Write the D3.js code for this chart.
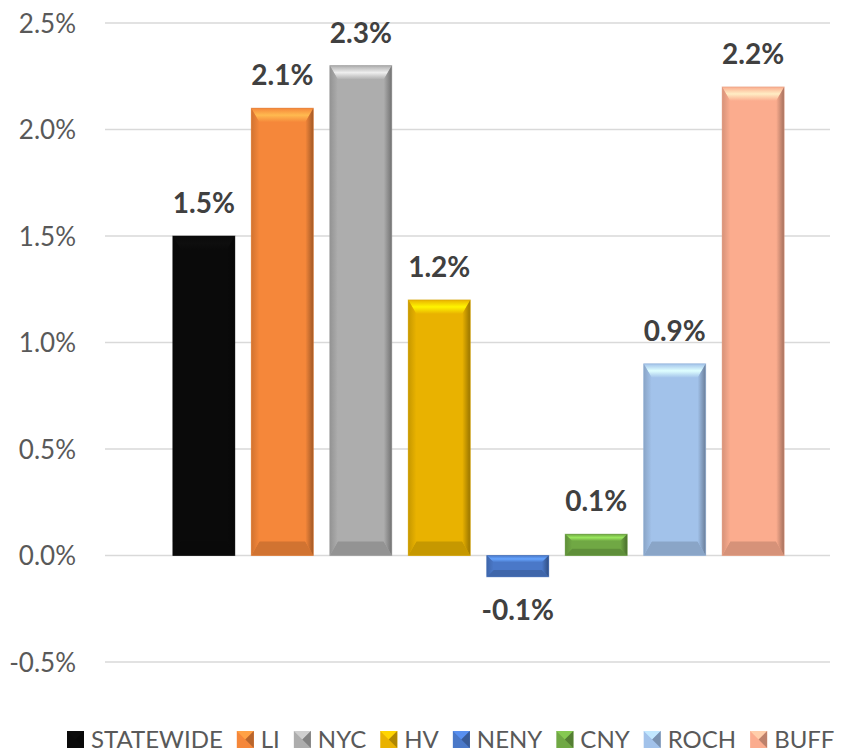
<!DOCTYPE html>
<html>
<head>
<meta charset="utf-8">
<script src="https://cdn.jsdelivr.net/npm/d3@7"></script>
<style>
  body { margin: 0; background: #fff; }
  svg { font-family: Lato, "Open Sans", sans-serif; }
</style>
</head>
<body>
<div id="container"></div>
<script>
/* CONSTANTS AND GLOBALS */
const width = 852;
const height = 754;
const margin = { top: 23, bottom: 92, left: 105, right: 22 };

/* DATA */
const regions = ["STATEWIDE", "LI", "NYC", "HV", "NENY", "CNY", "ROCH", "BUFF"];
const growth = [1.5, 2.1, 2.3, 1.2, -0.1, 0.1, 0.9, 2.2];
const colors = ["#0a0a0a", "#f5873a", "#adadad", "#e9b200", "#4a78c8", "#70a844", "#a2c2ea", "#fbac8e"];
const yTicks = [-0.5, 0, 0.5, 1.0, 1.5, 2.0, 2.5];

const data = regions.map((r, i) => ({ region: r, value: growth[i], color: colors[i] }));

/* SCALES */
const yScale = d3.scaleLinear()
  .domain([-0.5, 2.5])
  .range([662, margin.top]);

const xScale = d3.scaleBand()
  .domain(regions)
  .range([165, 792])
  .paddingInner(0.21)
  .paddingOuter(0.1);

/* SVG */
const svg = d3.select("#container")
  .append("svg")
  .attr("width", width)
  .attr("height", height);

const defs = svg.append("defs");

// gridlines
svg.append("g")
  .selectAll("line")
  .data(yTicks)
  .join("line")
  .attr("x1", margin.left)
  .attr("x2", width - margin.right)
  .attr("y1", d => yScale(d))
  .attr("y2", d => yScale(d))
  .attr("stroke", "#d9d9d9")
  .attr("stroke-width", 1.5);

// y axis labels
const yAxis = d3.axisLeft(yScale)
  .tickValues(yTicks)
  .tickFormat(d => d.toFixed(1) + "%")
  .tickSize(0)
  .tickPadding(0);

svg.append("g")
  .attr("transform", "translate(76,0)")
  .call(yAxis)
  .call(g => g.select(".domain").remove())
  .call(g => g.selectAll("text")
    .attr("fill", "#595959")
    .attr("dy", "0.36em")
    .style("font-size", "26px")
    .style("font-family", "Lato, 'Open Sans', sans-serif"));

/* BARS WITH BEVEL */
data.forEach((d, i) => {
  const c = d3.color(d.color);
  const light = c.brighter(0.9).formatHex();
  const dark = c.darker(1.2).formatHex();
  const mid = c.darker(0.45).formatHex();

  // side gradients
  const gl = defs.append("linearGradient").attr("id", "gl" + i).attr("x1", 0).attr("x2", 1);
  gl.append("stop").attr("offset", 0).attr("stop-color", mid);
  gl.append("stop").attr("offset", 1).attr("stop-color", d.color);
  const gr = defs.append("linearGradient").attr("id", "gr" + i).attr("x1", 0).attr("x2", 1);
  gr.append("stop").attr("offset", 0).attr("stop-color", d.color);
  gr.append("stop").attr("offset", 1).attr("stop-color", dark);
  const gt = defs.append("linearGradient").attr("id", "gt" + i).attr("x1", 0).attr("x2", 0).attr("y1", 0).attr("y2", 1);
  gt.append("stop").attr("offset", 0).attr("stop-color", d.color);
  gt.append("stop").attr("offset", 0.5).attr("stop-color", light);
  gt.append("stop").attr("offset", 1).attr("stop-color", d.color);

  const x0 = xScale(d.region);
  const x1 = x0 + xScale.bandwidth();
  const y0 = yScale(Math.max(0, d.value));
  const y1 = yScale(Math.min(0, d.value));
  const h = y1 - y0;
  const t = Math.min(14, h * 0.32);
  const s = Math.min(8, h * 0.32);

  const g = svg.append("g");
  g.append("rect")
    .attr("x", x0).attr("y", y0)
    .attr("width", x1 - x0).attr("height", h)
    .attr("fill", d.color);
  // top
  g.append("polygon")
    .attr("points", [[x0, y0], [x1, y0], [x1 - s, y0 + t], [x0 + s, y0 + t]].join(" "))
    .attr("fill", `url(#gt${i})`);
  // bottom
  g.append("polygon")
    .attr("points", [[x0, y1], [x1, y1], [x1 - s, y1 - t], [x0 + s, y1 - t]].join(" "))
    .attr("fill", mid);
  // left
  g.append("polygon")
    .attr("points", [[x0, y0], [x0 + s, y0 + t], [x0 + s, y1 - t], [x0, y1]].join(" "))
    .attr("fill", `url(#gl${i})`);
  // right
  g.append("polygon")
    .attr("points", [[x1, y0], [x1 - s, y0 + t], [x1 - s, y1 - t], [x1, y1]].join(" "))
    .attr("fill", `url(#gr${i})`);
  g.append("rect")
    .attr("x", x0).attr("y", y0)
    .attr("width", x1 - x0).attr("height", h)
    .attr("fill", "none")
    .attr("stroke", c.darker(0.3).formatHex())
    .attr("stroke-opacity", 0.5)
    .attr("stroke-width", 1);
});

/* DATA LABELS */
svg.selectAll("text.label")
  .data(data)
  .join("text")
  .attr("class", "label")
  .attr("x", d => xScale(d.region) + xScale.bandwidth() / 2)
  .attr("y", d => d.value >= 0 ? yScale(d.value) - 23 : yScale(d.value) + 43)
  .attr("text-anchor", "middle")
  .attr("fill", "#404040")
  .style("font-size", "28px")
  .style("font-weight", "bold")
  .text(d => d.value.toFixed(1) + "%");

/* LEGEND */
const legend = svg.append("g").attr("transform", "translate(67,748)");
let lx = 0;
data.forEach((d, i) => {
  const item = legend.append("g").attr("transform", `translate(${lx},0)`);
  item.append("rect")
    .attr("x", 0).attr("y", -17)
    .attr("width", 17).attr("height", 17)
    .attr("fill", d.color);
  item.append("polygon")
    .attr("points", "0,-17 17,-17 8.5,-8.5")
    .attr("fill", d3.color(d.color).brighter(0.5).formatHex());
  item.append("polygon")
    .attr("points", "17,-17 17,0 8.5,-8.5")
    .attr("fill", d3.color(d.color).darker(0.8).formatHex());
  const txt = item.append("text")
    .attr("x", 24)
    .attr("y", 0)
    .attr("fill", "#595959")
    .style("font-size", "24px")
    .text(d.region);
  lx += 24 + txt.node().getComputedTextLength() + 14;
});
</script>
</body>
</html>
